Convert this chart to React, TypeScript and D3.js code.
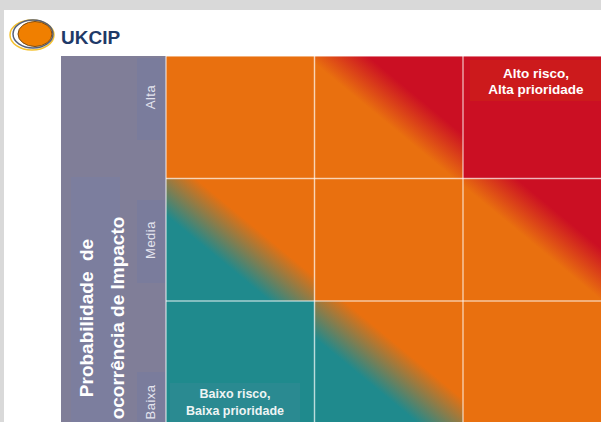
import React from "react";
import * as d3 from "d3";

// Rows = probability levels (top to bottom), columns = impact levels (left to right)
const probabilityLevels = ["Alta", "Media", "Baixa"];
const impactLevels = ["1", "2", "3"];
// fill keys per cell [row][col]
const cellFills = [
  ["orange", "orangeRed", "red"],
  ["tealOrange", "orange", "orangeRed"],
  ["teal", "tealOrange", "orange"],
];
const titleLines = ["Probabilidade  de", "ocorrência de Impacto"];
const highLabel = ["Alto risco,", "Alta prioridade"];
const lowLabel = ["Baixo risco,", "Baixa prioridade"];

const W = 601;
const H = 422;
const ORANGE = "#e9700f";
const RED = "#cb0f23";
const TEAL = "#1f8a8d";
const PURPLE = "#807e98";

export default function App() {
  const gridLeft = 166;
  const gridTop = 56;
  const cellW = 148.5;
  const cellH = 122.5;
  const x = d3
    .scaleBand<string>()
    .domain(impactLevels)
    .range([gridLeft, gridLeft + cellW * impactLevels.length]);
  const y = d3
    .scaleBand<string>()
    .domain(probabilityLevels)
    .range([gridTop, gridTop + cellH * probabilityLevels.length]);

  const fillFor = (k: string) =>
    k === "orange"
      ? ORANGE
      : k === "red"
      ? RED
      : k === "teal"
      ? TEAL
      : `url(#g-${k})`;

  const labelPos: Record<string, number> = { Alta: 97, Media: 240, Baixa: 402 };
  const labelBox: Record<string, [number, number]> = {
    Alta: [58, 140],
    Media: [200, 283],
    Baixa: [372, 430],
  };

  return (
    <svg
      width={W}
      height={H}
      style={{ position: "absolute", left: 0, top: 0 }}
      fontFamily="Liberation Sans, Arial, sans-serif"
    >
      <defs>
        <linearGradient id="g-tealOrange" x1="0" y1="1" x2="1" y2="0">
          <stop offset="0.35" stopColor={TEAL} />
          <stop offset="0.6" stopColor={ORANGE} />
        </linearGradient>
        <linearGradient id="g-orangeRed" x1="0" y1="1" x2="1" y2="0">
          <stop offset="0.47" stopColor={ORANGE} />
          <stop offset="0.68" stopColor={RED} />
        </linearGradient>
      </defs>
      <rect x={0} y={0} width={W} height={H} fill="#d9d9d9" />
      <rect x={4} y={10} width={W} height={H} fill="#ffffff" />

      {/* logo */}
      <g>
        <ellipse cx={32} cy={35} rx={22} ry={15} fill="none" stroke="#f5c230" strokeWidth={1.5} />
        <ellipse cx={33} cy={34} rx={20} ry={14} fill="none" stroke="#55607a" strokeWidth={1.5} />
        <ellipse cx={35} cy={34} rx={17} ry={12.5} fill="#f07f00" stroke="#7a4a10" strokeWidth={1} />
        <text x={61} y={44} fontSize={19} fontWeight="bold" fill="#1f3a68">
          UKCIP
        </text>
      </g>

      {/* left purple column */}
      <rect x={61} y={gridTop} width={gridLeft - 61} height={H} fill={PURPLE} />
      <rect x={71} y={177} width={49} height={H} fill="#7c7e9e" />
      {probabilityLevels.map((p) => (
        <rect
          key={"b" + p}
          x={137}
          y={labelBox[p][0]}
          width={28}
          height={labelBox[p][1] - labelBox[p][0]}
          fill="#7a7c9c"
        />
      ))}
      {probabilityLevels.map((p) => (
        <text
          key={"l" + p}
          transform={`translate(155,${labelPos[p]}) rotate(-90)`}
          textAnchor="middle"
          fontSize={13}
          fill="#e4e4ee"
          letterSpacing={0.5}
        >
          {p}
        </text>
      ))}
      {titleLines.map((t, i) => (
        <text
          key={"t" + i}
          transform={`translate(${93 + i * 31},318) rotate(-90)`}
          textAnchor="middle"
          fontSize={19}
          fontWeight="bold"
          fill="#ffffff"
          style={{ whiteSpace: "pre" }}
        >
          {t}
        </text>
      ))}

      {/* cells */}
      {probabilityLevels.map((p, r) =>
        impactLevels.map((c, ci) => (
          <rect
            key={p + c}
            x={x(c)}
            y={y(p)}
            width={x.bandwidth()}
            height={y.bandwidth()}
            fill={fillFor(cellFills[r][ci])}
          />
        ))
      )}
      {/* grid lines */}
      {impactLevels.map((c) => (
        <line
          key={"v" + c}
          x1={x(c)}
          x2={x(c)}
          y1={gridTop}
          y2={H}
          stroke="#ffffff"
          strokeOpacity={0.6}
          strokeWidth={1.5}
        />
      ))}
      {probabilityLevels.map((p) => (
        <line
          key={"h" + p}
          x1={gridLeft}
          x2={W}
          y1={y(p)}
          y2={y(p)}
          stroke="#ffffff"
          strokeOpacity={0.6}
          strokeWidth={1.5}
        />
      ))}

      {/* high risk label */}
      <rect x={470} y={60} width={140} height={41} fill="#cc1a1c" />
      {highLabel.map((t, i) => (
        <text
          key={"h" + i}
          x={536}
          y={78 + i * 16}
          textAnchor="middle"
          fontSize={13.5}
          fontWeight="bold"
          fill="#ffffff"
        >
          {t}
        </text>
      ))}
      {/* low risk label */}
      <rect x={170} y={383} width={130} height={50} fill="#2a8a91" />
      {lowLabel.map((t, i) => (
        <text
          key={"lo" + i}
          x={235}
          y={398 + i * 17}
          textAnchor="middle"
          fontSize={12.5}
          fontWeight="bold"
          fill="#eef4f4"
        >
          {t}
        </text>
      ))}
    </svg>
  );
}
